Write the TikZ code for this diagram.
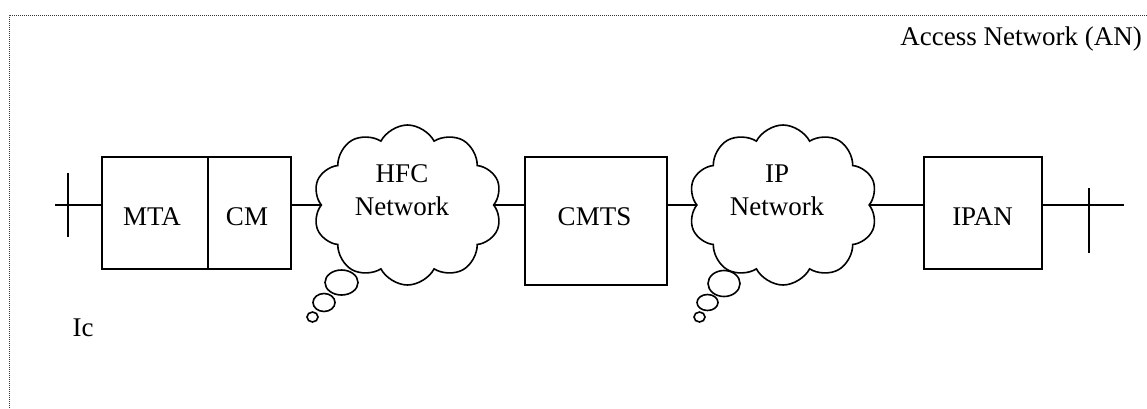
\documentclass[tikz,border=0pt]{standalone}
\usepackage{fontspec}
\setmainfont{Liberation Serif}
\usetikzlibrary{shapes.symbols,shapes.geometric}
\begin{document}
\begin{tikzpicture}[x=1pt,y=-1pt,
  every node/.style={font=\fontsize{27}{33}\selectfont},
  line/.style={line width=1.6pt},
  boxnode/.style={draw,line width=1.6pt,inner sep=0pt},
  txt/.style={anchor=base,inner sep=0pt},
  netcloud/.style={cloud,draw,line width=1.6pt,cloud puffs=10,cloud puff arc=125,aspect=1.2,minimum width=189pt,minimum height=160pt,inner sep=0pt},
  bubble/.style={ellipse,draw,line width=1.6pt,inner sep=0pt}]
\useasboundingbox (0,0) rectangle (1147,408);
\draw[black!80,line width=1pt,dash pattern=on 1pt off 1pt] (9,408) -- (9,15) -- (1147,15);
\node[anchor=base east,inner sep=0pt] (an) at (1142,45) {Access Network (AN)};
% boxes
\node[boxnode,minimum width=106pt,minimum height=112pt] (mta) at (155,213) {};
\node[boxnode,minimum width=83pt,minimum height=112pt] (cm) at (249.5,213) {};
\node[boxnode,minimum width=142pt,minimum height=128pt] (cmts) at (596,221) {};
\node[boxnode,minimum width=118pt,minimum height=112pt] (ipan) at (983,213) {};
\node[txt] (mtat) at (152,225) {MTA};
\node[txt] (cmt) at (247,225) {CM};
\node[txt] (cmtst) at (594.5,225) {CMTS};
\node[txt] (ipant) at (982.5,225) {IPAN};
% clouds
\node[netcloud] (hfc) at (407.5,205) {};
\node[netcloud] (ipn) at (783,205) {};
\node[txt] (hfct1) at (402,182) {HFC};
\node[txt] (hfct2) at (402,215) {Network};
\node[txt] (ipt1) at (777,182) {IP};
\node[txt] (ipt2) at (777,215) {Network};
% thought bubbles
\node[bubble,minimum width=33pt,minimum height=25pt] (hb1) at (341.5,282.5) {};
\node[bubble,minimum width=22pt,minimum height=18pt] (hb2) at (324,302.5) {};
\node[bubble,minimum width=11pt,minimum height=10pt] (hb3) at (312.5,317) {};
\node[bubble,minimum width=32pt,minimum height=26pt] (ib1) at (724,283.5) {};
\node[bubble,minimum width=21pt,minimum height=16pt] (ib2) at (707.5,302.5) {};
\node[bubble,minimum width=11pt,minimum height=10pt] (ib3) at (699.5,317) {};
% terminals
\coordinate (lend) at (55,205);
\coordinate (ltop) at (68,173);
\coordinate (lbot) at (68,237);
\coordinate (rend) at (1124,205);
\coordinate (rtop) at (1089,188);
\coordinate (rbot) at (1089,253);
\draw[line] (lend) -- (lend -| mta.west);
\draw[line] (ltop) -- (lbot);
\draw[line] (hfc.west -| cm.east) -- (hfc.west);
\draw[line] (hfc.east) -- (hfc.east -| cmts.west);
\draw[line] (ipn.west -| cmts.east) -- (ipn.west);
\draw[line] (ipn.east) -- (ipn.east -| ipan.west);
\draw[line] (rend -| ipan.east) -- (rend);
\draw[line] (rtop) -- (rbot);
\node[txt] (ic) at (83,336) {Ic};
\end{tikzpicture}
\end{document}
